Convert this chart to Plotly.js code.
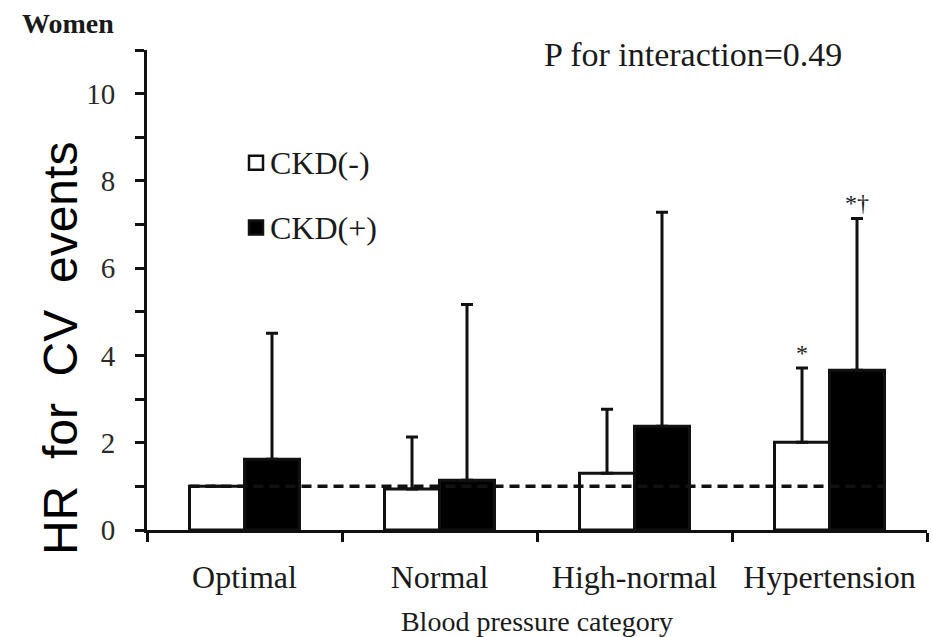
<!DOCTYPE html>
<html>
<head>
<meta charset="utf-8">
<script src="https://cdn.plot.ly/plotly-3.0.1.min.js"></script>
<style>
  html, body { margin: 0; padding: 0; background: #fff; }
  #chart { width: 932px; height: 637px; }
</style>
</head>
<body>
<div id="chart"></div>
<script>
// Blood pressure categories on the x axis
var categories = ['Optimal', 'Normal', 'High-normal', 'Hypertension'];

// Hazard ratios for CV events and the upper 95% CI limits
var ckdNegHR = [1.00, 0.94, 1.30, 2.01];
var ckdNegUpper = [1.00, 2.13, 2.77, 3.71];
var ckdPosHR = [1.62, 1.14, 2.38, 3.66];
var ckdPosUpper = [4.51, 5.17, 7.28, 7.14];

// Significance markers placed above the CI caps
var ckdNegMarks = ['', '', '', '*'];
var ckdPosMarks = ['', '', '', '*\u2020'];

// Y axis ticks: every unit ticked, even values labelled
var yTickVals = [0, 1, 2, 3, 4, 5, 6, 7, 8, 9, 10, 11];
var yTickText = ['0', '', '2', '', '4', '', '6', '', '8', '', '10', ''];

var referenceHR = 1;

var SERIF = 'Liberation Serif, Times New Roman, serif';
var INK = '#111';
var TEXT = '#1a1a1a';

function upperDelta(hr, upper) {
  return hr.map(function (v, i) { return upper[i] - v; });
}
function zeros(n) {
  var a = [];
  for (var i = 0; i < n; i++) a.push(0);
  return a;
}

var errStyle = { color: INK, thickness: 3, width: 6 };

var traces = [
  {
    type: 'bar',
    name: 'CKD(-)',
    x: categories,
    y: ckdNegHR,
    marker: { color: '#ffffff', line: { color: INK, width: 3 } },
    error_y: Object.assign({
      type: 'data', symmetric: false,
      array: upperDelta(ckdNegHR, ckdNegUpper),
      arrayminus: zeros(categories.length)
    }, errStyle),
    showlegend: false,
    hoverinfo: 'x+y'
  },
  {
    type: 'bar',
    name: 'CKD(+)',
    x: categories,
    y: ckdPosHR,
    marker: { color: '#000000', line: { color: INK, width: 3 } },
    error_y: Object.assign({
      type: 'data', symmetric: false,
      array: upperDelta(ckdPosHR, ckdPosUpper),
      arrayminus: zeros(categories.length)
    }, errStyle),
    showlegend: false,
    hoverinfo: 'x+y'
  }
];

// half the width of one bar, in category units (bargap leaves 0.564 per pair)
var bargap = 0.436;
var halfBar = (1 - bargap) / 4;

var annotations = [];

// significance marks over each CI cap
categories.forEach(function (c, i) {
  if (ckdNegMarks[i]) {
    annotations.push({
      xref: 'x', yref: 'y', x: i - halfBar, y: ckdNegUpper[i],
      text: ckdNegMarks[i], showarrow: false, yanchor: 'bottom',
      font: { family: SERIF, size: 24, color: TEXT }
    });
  }
  if (ckdPosMarks[i]) {
    annotations.push({
      xref: 'x', yref: 'y', x: i + halfBar, y: ckdPosUpper[i],
      text: ckdPosMarks[i], showarrow: false, yanchor: 'bottom',
      font: { family: SERIF, size: 24, color: TEXT }
    });
  }
});

// panel label, interaction p value, y axis label
annotations.push({
  xref: 'paper', yref: 'paper', x: -0.163, y: 1.056,
  xanchor: 'left', yanchor: 'middle', showarrow: false,
  text: '<b>Women</b>', font: { family: SERIF, size: 28, color: TEXT }
});
annotations.push({
  xref: 'paper', yref: 'paper', x: 0.506, y: 0.99,
  xanchor: 'left', yanchor: 'middle', showarrow: false,
  text: 'P for interaction=0.49', font: { family: SERIF, size: 34, color: TEXT }
});
annotations.push({
  xref: 'paper', yref: 'paper', x: -0.1115, y: 0.377,
  xanchor: 'center', yanchor: 'middle', showarrow: false, textangle: -90,
  text: 'HR\u00a0 for\u00a0 CV\u00a0 events',
  font: { family: 'Liberation Sans, Arial, sans-serif', size: 48, color: '#000' }
});

// legend entries
var legendItems = [
  { label: 'CKD(-)', fill: '#ffffff', yc: 0.765 },
  { label: 'CKD(+)', fill: '#000000', yc: 0.63 }
];
var shapes = [];
legendItems.forEach(function (it) {
  var px = 1 / 780, py = 1 / 480;
  shapes.push({
    type: 'rect', xref: 'paper', yref: 'paper',
    x0: (249 - 147) * px, x1: (263 - 147) * px,
    y0: it.yc - 7 * py, y1: it.yc + 7 * py,
    fillcolor: it.fill, line: { color: INK, width: 2.5 }
  });
  annotations.push({
    xref: 'paper', yref: 'paper', x: (268 - 147) * px, y: it.yc,
    xanchor: 'left', yanchor: 'middle', showarrow: false,
    text: it.label, font: { family: SERIF, size: 32, color: TEXT }
  });
});

// dashed reference line at HR = 1
shapes.push({
  type: 'line', xref: 'x', yref: 'y',
  x0: -2 * halfBar, x1: categories.length - 1 + 2 * halfBar,
  y0: referenceHR, y1: referenceHR,
  line: { color: INK, width: 3.5, dash: '10px,6px' },
  layer: 'above'
});

var layout = {
  width: 932,
  height: 637,
  margin: { l: 147, r: 5, t: 50, b: 107 },
  paper_bgcolor: '#ffffff',
  plot_bgcolor: '#ffffff',
  barmode: 'group',
  bargap: bargap,
  bargroupgap: 0,
  showlegend: false,
  font: { family: SERIF, color: TEXT },
  xaxis: {
    type: 'category',
    range: [-0.5, categories.length - 0.5],
    tickson: 'boundaries',
    ticks: 'outside', ticklen: 9, tickwidth: 3, tickcolor: INK,
    showline: true, linewidth: 3, linecolor: INK,
    showgrid: false, zeroline: false,
    tickfont: { family: SERIF, size: 32, color: TEXT },
    ticklabelstandoff: 17,
    title: { text: 'Blood pressure category', font: { family: SERIF, size: 28, color: TEXT }, standoff: 22 },
    automargin: false,
    fixedrange: true
  },
  yaxis: {
    range: [0, 11],
    tickmode: 'array',
    tickvals: yTickVals,
    ticktext: yTickText,
    ticks: 'outside', ticklen: 9, tickwidth: 3, tickcolor: INK,
    showline: true, linewidth: 3, linecolor: INK,
    showgrid: false, zeroline: false,
    tickfont: { family: SERIF, size: 29, color: '#2a2a2a' },
    ticklabelstandoff: 14,
    automargin: false,
    fixedrange: true
  },
  annotations: annotations,
  shapes: shapes
};

Plotly.newPlot('chart', traces, layout, { displayModeBar: false, staticPlot: true });
</script>
</body>
</html>
